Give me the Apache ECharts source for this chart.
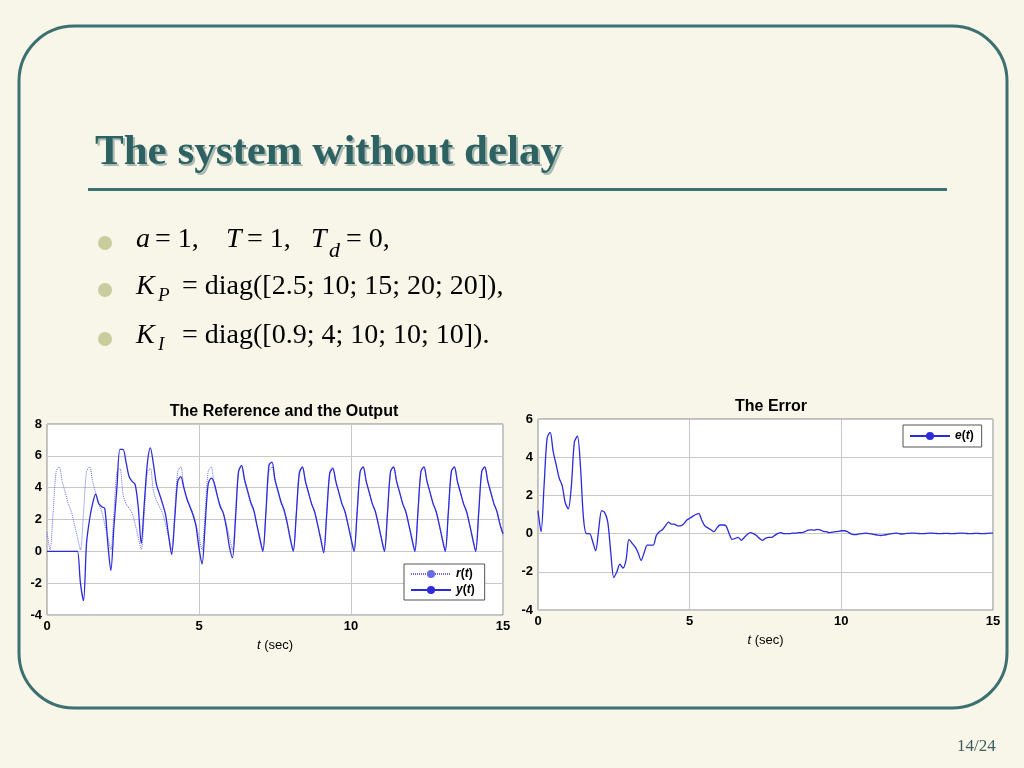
<!DOCTYPE html>
<html><head><meta charset="utf-8">
<script src="https://cdn.jsdelivr.net/npm/echarts@6/dist/echarts.min.js"></script>
<style>html,body{margin:0;padding:0;background:#f7f6e8}#c{width:1024px;height:768px}</style>
</head><body><div id="c"></div>
<script>
const tickLabelsX = [0,5,10,15];
const rRef = [
1.2,0.1,2.4,5.0,5.3,4.4,3.7,3.0,2.5,1.7,
0.9,0.1,2.4,5.0,5.3,4.4,3.7,3.0,2.5,1.7,
0.9,0.1,2.4,5.0,5.2,3.6,3.0,2.7,2.4,1.7,
0.9,0.1,2.4,5.0,5.2,3.8,3.2,2.8,2.4,1.7,
0.9,0.1,2.4,5.0,5.3,4.1,3.4,2.9,2.4,1.7,
0.9,0.1,2.4,5.0,5.3,4.2,3.5,2.9,2.4,1.7,
0.9,0.1,2.4,5.0,5.3,4.4,3.7,3.0,2.5,1.7,
0.9,0.1,2.4,5.0,5.3,4.4,3.7,3.0,2.5,1.7,
0.9,0.1,2.4,5.0,5.3,4.4,3.7,3.0,2.5,1.7,
0.9,0.1,2.4,5.0,5.3,4.4,3.7,3.0,2.5,1.7,
0.9,0.1,2.4,5.0,5.3,4.4,3.7,3.0,2.5,1.7,
0.9,0.1,2.4,5.0,5.3,4.4,3.7,3.0,2.5,1.7,
0.9,0.1,2.4,5.0,5.3,4.4,3.7,3.0,2.5,1.7,
0.9,0.1,2.4,5.0,5.3,4.4,3.7,3.0,2.5,1.7,
0.9,0.1,2.4,5.0,5.3,4.4,3.7,3.0,2.5,1.7,
1.0];
const yOut = [
0,0,0,0,0,0,0,0,0,0,
0,-2.0,-3.1,0.5,2.0,3.0,3.6,3.0,2.8,2.7,
0.5,-1.2,1.5,4.0,6.4,6.4,5.6,4.7,4.4,4.2,
2.8,0.5,3.0,5.5,6.5,5.5,4.2,3.6,3.0,2.3,
1.0,-0.2,2.0,4.4,4.7,4.0,3.3,2.8,2.3,1.6,
0.2,-0.8,1.6,4.2,4.6,4.3,3.5,2.8,2.4,1.5,
0.3,-0.4,2.0,5.0,5.4,4.5,3.8,3.1,2.6,1.7,
0.8,0.0,2.4,5.4,5.6,4.5,3.8,3.1,2.6,1.8,
0.8,0.0,2.3,4.9,5.3,4.4,3.7,3.0,2.5,1.7,
0.8,-0.1,2.3,4.9,5.2,4.4,3.7,3.0,2.5,1.7,
0.8,0.0,2.4,5.0,5.3,4.4,3.7,3.0,2.5,1.7,
0.8,0.0,2.4,5.0,5.3,4.4,3.7,3.0,2.5,1.7,
0.8,0.0,2.4,5.0,5.3,4.4,3.7,3.0,2.5,1.7,
0.8,0.0,2.4,5.0,5.3,4.4,3.7,3.0,2.5,1.7,
0.8,0.0,2.4,5.0,5.3,4.4,3.7,3.0,2.5,1.7,
1.1];
const eErr = [
1.2,0.1,2.5,5.0,5.3,4.3,3.6,2.9,2.5,1.6,
1.3,2.5,4.8,5.1,3.5,0.8,0.0,0.0,-0.4,-0.9,
0.2,1.2,1.1,0.6,-1.0,-2.3,-2.0,-1.6,-1.8,-1.4,
-0.3,-0.5,-0.7,-1.0,-1.4,-1.0,-0.6,-0.6,-0.6,-0.1,
0.1,0.2,0.4,0.6,0.5,0.5,0.4,0.4,0.5,0.7,
0.8,0.9,1.0,1.05,0.7,0.4,0.3,0.2,0.1,0.3,
0.45,0.45,0.4,0.0,-0.3,-0.25,-0.2,-0.35,-0.2,-0.05,
0.05,0.0,-0.1,-0.25,-0.35,-0.25,-0.2,-0.2,-0.1,0.0,
0.05,0.0,0.0,0.0,0.02,0.02,0.05,0.05,0.1,0.18,
0.2,0.18,0.22,0.2,0.12,0.1,0.05,0.08,0.1,0.12,
0.15,0.15,0.1,0.0,-0.05,-0.05,-0.02,0.0,0.02,0.0,
-0.02,-0.05,-0.08,-0.1,-0.08,-0.05,-0.02,0.0,0.02,0.0,
-0.02,0.0,0.01,0.02,0.02,0.01,0.0,0.0,0.01,0.02,
0.02,0.01,0.0,0.0,0.01,0.01,0.0,0.0,0.01,0.02,
0.02,0.01,0.0,0.0,0.01,0.01,0.0,0.0,0.01,0.02,
0.02];
const dt = 0.1;
const pair = a => a.map((v,i)=>[+(i*dt).toFixed(2), v]);

const blue = '#2b2bdc';
const axisFont = {color:'#000', fontFamily:'Liberation Sans', fontWeight:'bold', fontSize:13};
const gridLine = {show:true, lineStyle:{color:'#c8c8c8', width:1}};
function xAx(gi){return {type:'value', gridIndex:gi, min:0, max:15, interval:5,
  axisLine:{show:false}, axisTick:{show:false}, splitLine:gridLine,
  axisLabel:Object.assign({margin:5, formatter:v=>tickLabelsX.includes(v)?String(v):''},axisFont),
  name:'{i|t} (sec)', nameLocation:'middle', nameGap:24,
  nameTextStyle:{fontFamily:'Liberation Sans', fontSize:13, color:'#000', rich:{i:{fontStyle:'italic', fontFamily:'Liberation Sans', fontSize:13}}}};}
function yAx(gi,min,max){return {type:'value', gridIndex:gi, min:min, max:max, interval:2,
  axisLine:{show:false}, axisTick:{show:false}, splitLine:gridLine,
  axisLabel:Object.assign({margin:5},axisFont)};}
const richLeg = {i:{fontStyle:'italic', fontWeight:'bold', fontFamily:'Liberation Sans', fontSize:12}};
const serif = 'Liberation Serif';
function T(x,y,s,size,opt){return Object.assign({type:'text', x:x, y:y, style:Object.assign({text:s, fontFamily:serif, fontSize:size, fill:'#000'}, opt||{})});}

const chart = echarts.init(document.getElementById('c'));
chart.setOption({
  backgroundColor:'#f7f6e8',
  animation:false,
  graphic:[
    {type:'rect', shape:{x:19, y:26, width:988, height:682, r:55}, style:{fill:'#f7f6e8', stroke:'#3d7070', lineWidth:3}, z:-10},
    T(97,133,'The system without delay',43,{fill:'#a9b8b0', fontWeight:'bold'}),
    T(95,131,'The system without delay',43,{fill:'#2e6262', fontWeight:'bold'}),
    {type:'rect', shape:{x:88, y:188, width:859, height:3}, style:{fill:'#3d7070'}},
    {type:'circle', shape:{cx:105, cy:243, r:7}, style:{fill:'#c9cc9c'}},
    {type:'circle', shape:{cx:105, cy:290, r:7}, style:{fill:'#c9cc9c'}},
    {type:'circle', shape:{cx:105, cy:339, r:7}, style:{fill:'#c9cc9c'}},
    T(136,226,'a',28,{fontStyle:'italic'}),
    T(155,226,'= 1,',28),
    T(226,226,'T',28,{fontStyle:'italic'}),
    T(247,226,'= 1,',28),
    T(311,226,'T',28,{fontStyle:'italic'}),
    T(329,240,'d',22,{fontStyle:'italic'}),
    T(346,226,'= 0,',28),
    T(136,273,'K',28,{fontStyle:'italic'}),
    T(158,286,'P',19,{fontStyle:'italic'}),
    T(182,273,'= diag([2.5; 10; 15; 20; 20]),',28),
    T(136,322,'K',28,{fontStyle:'italic'}),
    T(158,335,'I',19,{fontStyle:'italic'}),
    T(182,322,'= diag([0.9; 4; 10; 10; 10]).',28),
    T(957,738,'14/24',17,{fill:'#3d5f5f'})
  ],
  title:[
    {text:'The Reference and the Output', left:279, top:399, textAlign:'center', textStyle:{fontFamily:'Liberation Sans', fontSize:16, fontWeight:'bold', color:'#000'}},
    {text:'The Error', left:766, top:394, textAlign:'center', textStyle:{fontFamily:'Liberation Sans', fontSize:16, fontWeight:'bold', color:'#000'}}
  ],
  grid:[
    {left:47, top:424, width:456, height:191, show:true, backgroundColor:'#fff', borderColor:'#888', borderWidth:1},
    {left:538, top:419, width:455, height:191, show:true, backgroundColor:'#fff', borderColor:'#888', borderWidth:1}
  ],
  xAxis:[xAx(0), xAx(1)],
  yAxis:[yAx(0,-4,8), yAx(1,-4,6)],
  legend:[
    {left:404, top:564, orient:'vertical', itemGap:4, itemWidth:40, itemHeight:10, data:['r','y'],
     backgroundColor:'#fff', borderColor:'#555', borderWidth:1, padding:[4,10,4,6],
     formatter:n=>'{i|'+n+'}({i|t})', textStyle:{rich:richLeg, fontWeight:'bold', fontSize:12, fontFamily:'Liberation Sans', color:'#000', width:30, align:'right'}},
    {left:903, top:425, itemWidth:40, itemHeight:10, data:['e'],
     backgroundColor:'#fff', borderColor:'#555', borderWidth:1, padding:[5,8,5,6],
     formatter:n=>'{i|'+n+'}({i|t})', textStyle:{rich:richLeg, fontWeight:'bold', fontSize:12, fontFamily:'Liberation Sans', color:'#000', width:26, align:'right'}}
  ],
  series:[
    {name:'r', type:'line', xAxisIndex:0, yAxisIndex:0, data:pair(rRef), symbol:'none', smooth:0.3,
     lineStyle:{color:'#6a6ae8', width:1, type:[1,1]}, itemStyle:{color:'#6a6ae8'}},
    {name:'y', type:'line', xAxisIndex:0, yAxisIndex:0, data:pair(yOut), symbol:'none', smooth:0.3,
     lineStyle:{color:blue, width:1.3}, itemStyle:{color:blue}},
    {name:'e', type:'line', xAxisIndex:1, yAxisIndex:1, data:pair(eErr), symbol:'none', smooth:0.3,
     lineStyle:{color:blue, width:1.3}, itemStyle:{color:blue}}
  ]
});
</script></body></html>
